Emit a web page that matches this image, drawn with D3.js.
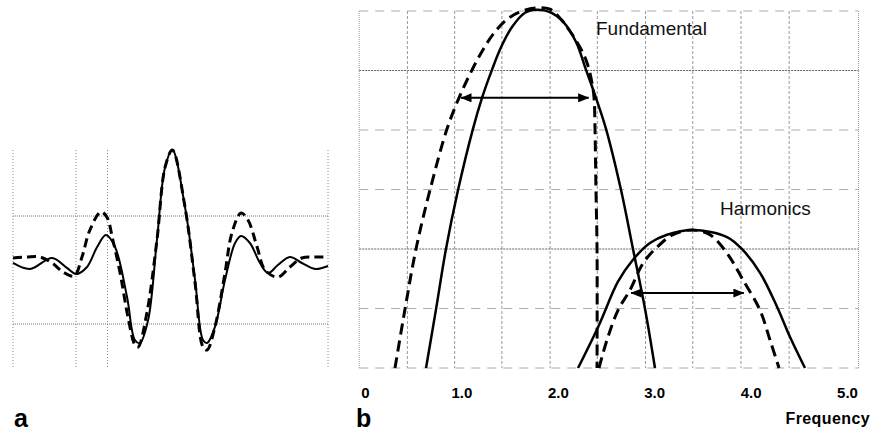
<!DOCTYPE html>
<html>
<head>
<meta charset="utf-8">
<script src="https://cdn.jsdelivr.net/npm/d3@7"></script>
<style>
  body { margin: 0; background: #fff; }
  svg { display: block; font-family: "Liberation Sans", Arial, sans-serif; }
</style>
</head>
<body>
<svg id="chart"></svg>
<script>
// --------------------
// Panel a data (time axis 0..10, amplitude)
// --------------------
const aSolid = [
  [0, 0.065], [0.54, 0.009], [1.24, 0.111], [1.71, 0.019], [2.0, -0.037],
  [2.35, 0.028], [2.67, 0.213], [2.95, 0.324], [3.24, 0.213], [3.62, -0.25],
  [3.87, -0.648], [4.03, -0.676], [4.29, -0.463], [4.57, 0.278], [4.83, 0.954],
  [5.06, 1.111], [5.46, 0.583], [5.78, -0.093], [6.03, -0.648], [6.16, -0.676],
  [6.41, -0.528], [6.73, -0.093], [7.05, 0.25], [7.24, 0.315], [7.52, 0.25],
  [7.84, 0.065], [8.10, -0.028], [8.41, 0.046], [8.79, 0.12], [9.17, 0.065],
  [9.59, 0.009], [10.0, 0.037]
];
const aDashed = [
  [0, 0.111], [0.44, 0.12], [0.86, 0.12], [1.24, 0.065], [1.59, -0.019],
  [1.94, -0.056], [2.19, 0.12], [2.44, 0.37], [2.79, 0.537], [2.98, 0.49],
  [3.17, 0.278], [3.40, -0.028], [3.65, -0.435], [3.87, -0.694], [3.97, -0.713],
  [4.25, -0.398], [4.57, 0.278], [4.83, 0.954], [5.06, 1.111], [5.46, 0.583],
  [5.78, -0.12], [6.03, -0.713], [6.16, -0.741], [6.41, -0.528], [6.73, -0.028],
  [6.95, 0.343], [7.24, 0.528], [7.46, 0.463], [7.75, 0.213], [8.0, 0],
  [8.41, -0.065], [8.79, 0.028], [9.17, 0.111], [9.59, 0.12], [10.0, 0.12]
];
const aGridX = [0, 2, 3, 10];
const aGridY = [-0.5, 0.5];

// --------------------
// Panel b data (frequency, amplitude in grid units)
// --------------------
const fundSolid = [
  [0.633, 0], [0.737, 0.99], [0.840, 2.0], [0.965, 2.99], [1.120, 4.02],
  [1.214, 4.54], [1.317, 5.01], [1.411, 5.39], [1.525, 5.73], [1.660, 5.97],
  [1.784, 6.02], [1.919, 5.98], [2.054, 5.82], [2.189, 5.48], [2.293, 5.01],
  [2.396, 4.54], [2.500, 4.02], [2.656, 2.99], [2.780, 2.0], [2.905, 0.99],
  [3.008, 0]
];
const fundDashed = [
  [0.311, 0], [0.415, 0.99], [0.529, 2.0], [0.674, 2.99], [0.851, 4.02],
  [0.975, 4.54], [1.089, 4.94], [1.203, 5.29], [1.338, 5.63], [1.483, 5.87],
  [1.629, 6.0], [1.774, 6.05], [1.919, 6.03], [2.033, 5.86], [2.127, 5.66],
  [2.230, 5.39], [2.303, 5.13], [2.355, 4.79], [2.376, 4.54], [2.386, 4.02],
  [2.396, 2.99], [2.407, 2.0], [2.407, 0]
];
const harmSolid = [
  [2.210, 0], [2.427, 0.72], [2.624, 1.45], [2.780, 1.82], [2.956, 2.10],
  [3.133, 2.24], [3.402, 2.32], [3.755, 2.20], [3.921, 1.98], [4.098, 1.60],
  [4.274, 1.03], [4.409, 0.52], [4.564, 0]
];
const harmDashed = [
  [2.427, 0], [2.510, 0.47], [2.624, 0.97], [2.749, 1.31], [2.884, 1.76],
  [3.029, 2.03], [3.195, 2.24], [3.392, 2.32], [3.579, 2.24], [3.755, 1.93],
  [3.921, 1.48], [4.098, 0.97], [4.201, 0.47], [4.295, 0]
];
// width arrows: [from, to, level]
const fundArrow = [0.996, 2.32, 4.54];
const harmArrow = [2.76, 3.93, 1.26];

const freqTicks = [0, 1, 2, 3, 4, 5];
const bGridX = [-0.06, 0.44, 0.93, 1.42, 1.92, 2.41, 2.91, 3.40, 3.90, 4.40, 5.12];
const bGridY = [0, 1, 2, 3, 4, 5, 6];
const bMajorY = [2, 5];

// --------------------
// Basic setup
// --------------------
const width = 881;
const height = 432;

const svg = d3.select("#chart")
  .attr("width", width)
  .attr("height", height);

svg.append("rect").attr("width", width).attr("height", height).attr("fill", "#fff");

const defs = svg.append("defs");
defs.append("marker")
  .attr("id", "head")
  .attr("markerUnits", "userSpaceOnUse")
  .attr("viewBox", "0 0 11 9")
  .attr("refX", 10.5).attr("refY", 4.5)
  .attr("markerWidth", 11).attr("markerHeight", 9)
  .attr("orient", "auto-start-reverse")
  .append("path")
  .attr("d", "M0,0 L11,4.5 L0,9 Z")
  .attr("fill", "#000");

const curve = d3.curveCatmullRom.alpha(0.5);

// --------------------
// Panel a
// --------------------
const xA = d3.scaleLinear().domain([0, 10]).range([13, 328]);
const yA = d3.scaleLinear().domain([-0.5, 0.5]).range([324, 216]);
const gA = svg.append("g");

gA.selectAll("line.vx")
  .data(aGridX)
  .join("line")
    .attr("x1", d => xA(d)).attr("x2", d => xA(d))
    .attr("y1", 150).attr("y2", 368)
    .attr("stroke", "#888").attr("stroke-width", 1)
    .attr("stroke-dasharray", "1,2");

gA.selectAll("line.hy")
  .data(aGridY)
  .join("line")
    .attr("x1", xA(0)).attr("x2", xA(10))
    .attr("y1", d => yA(d)).attr("y2", d => yA(d))
    .attr("stroke", "#777").attr("stroke-width", 1)
    .attr("stroke-dasharray", "1,1");

const lineA = d3.line().x(d => xA(d[0])).y(d => yA(d[1])).curve(curve);

gA.append("path")
  .attr("d", lineA(aDashed))
  .attr("fill", "none").attr("stroke", "#000")
  .attr("stroke-width", 3).attr("stroke-dasharray", "9,5");

gA.append("path")
  .attr("d", lineA(aSolid))
  .attr("fill", "none").attr("stroke", "#000")
  .attr("stroke-width", 2);

// --------------------
// Panel b
// --------------------
const xB = d3.scaleLinear().domain([0, 5]).range([365, 847]);
const yB = d3.scaleLinear().domain([0, 6]).range([368, 11]);
const gB = svg.append("g");

gB.selectAll("line.vx")
  .data(bGridX)
  .join("line")
    .attr("x1", d => xB(d)).attr("x2", d => xB(d))
    .attr("y1", yB(6)).attr("y2", yB(0))
    .attr("stroke", "#999").attr("stroke-width", 1)
    .attr("stroke-dasharray", (d, i) => (i === 0 || i === bGridX.length - 1) ? "1,1" : "3,2");

gB.selectAll("line.hy")
  .data(bGridY)
  .join("line")
    .attr("x1", xB(bGridX[0])).attr("x2", xB(bGridX[bGridX.length - 1]))
    .attr("y1", d => yB(d)).attr("y2", d => yB(d))
    .attr("stroke", d => bMajorY.includes(d) ? "#666" : "#aaa")
    .attr("stroke-width", 1)
    .attr("stroke-dasharray", d => bMajorY.includes(d) ? "2,1" : "9,7");

const lineB = d3.line().x(d => xB(d[0])).y(d => yB(d[1])).curve(curve);

[fundDashed, harmDashed].forEach(data => {
  gB.append("path")
    .attr("d", lineB(data))
    .attr("fill", "none").attr("stroke", "#000")
    .attr("stroke-width", 3).attr("stroke-dasharray", "11,6");
});

[fundSolid, harmSolid].forEach(data => {
  gB.append("path")
    .attr("d", lineB(data))
    .attr("fill", "none").attr("stroke", "#000")
    .attr("stroke-width", 2.5);
});

[fundArrow, harmArrow].forEach(a => {
  gB.append("line")
    .attr("x1", xB(a[0])).attr("x2", xB(a[1]))
    .attr("y1", yB(a[2])).attr("y2", yB(a[2]))
    .attr("stroke", "#000").attr("stroke-width", 2)
    .attr("marker-start", "url(#head)")
    .attr("marker-end", "url(#head)");
});

// labels on curves
gB.append("text")
  .attr("x", 596).attr("y", 35)
  .attr("font-size", 19).attr("fill", "#111")
  .text("Fundamental");

gB.append("text")
  .attr("x", 720).attr("y", 215)
  .attr("font-size", 19).attr("fill", "#111")
  .text("Harmonics");

// frequency axis
const axis = d3.axisBottom(xB)
  .tickValues(freqTicks)
  .tickFormat(d => d === 0 ? "0" : d.toFixed(1))
  .tickSize(0)
  .tickPadding(19);

const gAxis = gB.append("g")
  .attr("transform", `translate(0,${yB(0)})`)
  .call(axis);
gAxis.select(".domain").remove();
gAxis.selectAll("text")
  .attr("font-family", "\"Liberation Sans\", Arial, sans-serif")
  .attr("font-size", 15)
  .attr("font-weight", "bold")
  .attr("fill", "#000");

gB.append("text")
  .attr("x", 870).attr("y", 424)
  .attr("text-anchor", "end")
  .attr("font-size", 16).attr("font-weight", "bold")
  .attr("letter-spacing", 0.4)
  .text("Frequency");

// panel letters
svg.append("text")
  .attr("x", 14).attr("y", 427)
  .attr("font-size", 25).attr("font-weight", "bold")
  .text("a");

svg.append("text")
  .attr("x", 356).attr("y", 427)
  .attr("font-size", 25).attr("font-weight", "bold")
  .text("b");
</script>
</body>
</html>
